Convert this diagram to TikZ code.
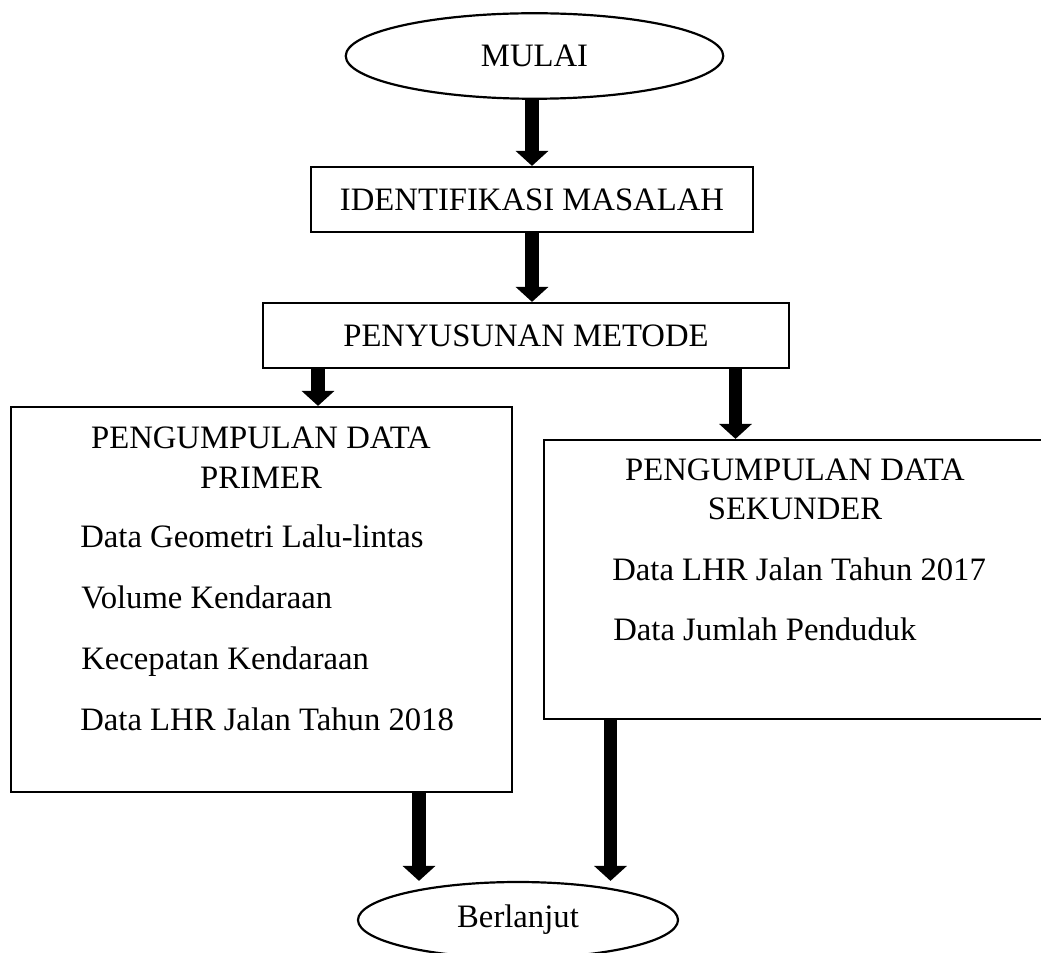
\documentclass[tikz,border=0pt]{standalone}
\usepackage{fontspec}
\setmainfont{Liberation Serif}
\usetikzlibrary{shapes.geometric,arrows.meta}

\begin{document}
\begin{tikzpicture}[>={Triangle[width=0.64cm,length=0.3cm]},
  every node/.style={font=\fontsize{18.6}{22}\selectfont},
  terminal/.style={draw, ellipse, line width=1.25pt, inner sep=0pt},
  proses/.style={draw, rectangle, line width=1.25pt, inner sep=0pt},
  teks/.style={inner sep=0pt},
  panah/.style={->, line width=0.27cm}]
  \useasboundingbox (0,0) rectangle (20.82,19.04);
  % start and end of the flow
  \node[terminal, minimum width=7.55cm, minimum height=1.71cm] (start) at (10.69,17.92) {MULAI};
  \node[terminal, minimum width=6.4cm, minimum height=1.52cm] (lanjut) at (10.36,0.64) {Berlanjut};
  % process boxes
  \node[proses, minimum width=8.84cm, minimum height=1.3cm] (ident) at (10.64,15.05) {IDENTIFIKASI MASALAH};
  \node[proses, minimum width=10.52cm, minimum height=1.3cm] (metode) at (10.52,12.33) {PENYUSUNAN METODE};
  \node[proses, minimum width=10.02cm, minimum height=7.7cm] (primer) at (5.23,7.05) {};
  \node[proses, minimum width=10.04cm, minimum height=5.58cm] (sekunder) at (15.90,7.45) {};
  % primary data
  \node[teks, anchor=base] (primerA) at (5.22,10.08) {PENGUMPULAN DATA};
  \node[teks, anchor=base] (primerB) at (5.22,9.28) {PRIMER};
  \node[teks, anchor=base west] (p1) at (1.60,8.10) {Data Geometri Lalu-lintas};
  \node[teks, anchor=base west] (p2) at (1.62,6.88) {Volume Kendaraan};
  \node[teks, anchor=base west] (p3) at (1.62,5.66) {Kecepatan Kendaraan};
  \node[teks, anchor=base west] (p4) at (1.60,4.44) {Data LHR Jalan Tahun 2018};
  % secondary data
  \node[teks, anchor=base] (sekunderA) at (15.90,9.44) {PENGUMPULAN DATA};
  \node[teks, anchor=base] (sekunderB) at (15.90,8.66) {SEKUNDER};
  \node[teks, anchor=base west] (s1) at (12.24,7.44) {Data LHR Jalan Tahun 2017};
  \node[teks, anchor=base west] (s2) at (12.26,6.24) {Data Jumlah Penduduk};
  % x positions of the side arrows
  \coordinate (L) at (6.36,0);
  \coordinate (R) at (14.71,0);
  \coordinate (LB) at (8.38,0);
  \coordinate (RB) at (12.21,0);
  % arrows
  \draw[panah] (start.south -| ident.north) -- (ident.north);
  \draw[panah] (ident.south) -- (ident.south |- metode.north);
  \draw[panah] (metode.south -| L) -- (primer.north -| L);
  \draw[panah] (metode.south -| R) -- (sekunder.north -| R);
  \draw[panah] (primer.south -| LB) -- (lanjut.north -| LB);
  \draw[panah] (sekunder.south -| RB) -- (lanjut.north -| RB);
\end{tikzpicture}
\end{document}
